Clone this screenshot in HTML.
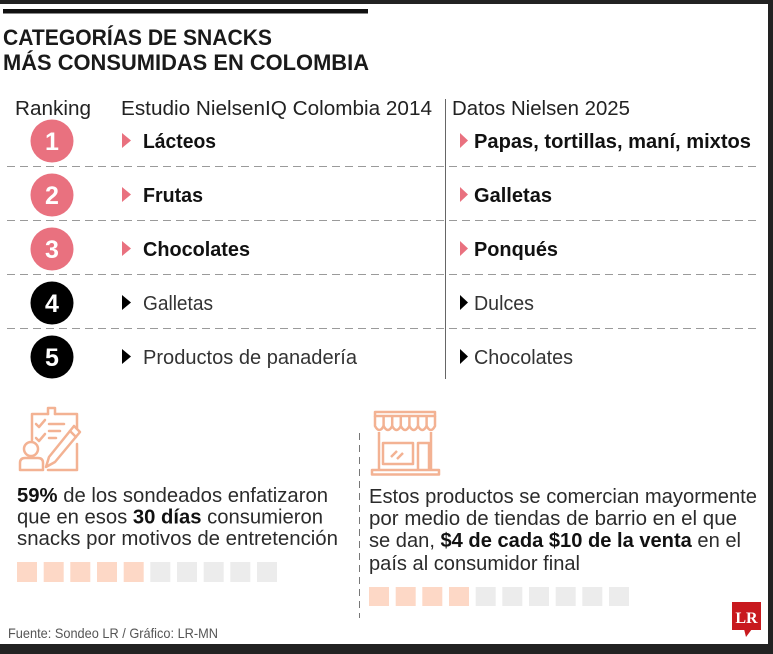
<!DOCTYPE html>
<html>
<head>
<meta charset="utf-8">
<style>
html,body{margin:0;padding:0;background:#fff;}
svg{display:block;}
text{font-family:"Liberation Sans",sans-serif;}
</style>
</head>
<body>
<svg width="773" height="654" viewBox="0 0 773 654" xmlns="http://www.w3.org/2000/svg">
<rect x="0" y="0" width="773" height="654" fill="#fff"/>
<!-- dark frame -->
<rect x="0" y="0" width="773" height="4" fill="#222"/>
<rect x="768" y="0" width="5" height="654" fill="#222"/>
<rect x="0" y="644" width="773" height="10" fill="#222"/>
<!-- top bar -->
<rect x="3" y="9" width="365" height="4.5" fill="#111"/>
<!-- title -->
<text x="3" y="45" font-size="22.5" font-weight="bold" fill="#1a1a1a" textLength="269" lengthAdjust="spacingAndGlyphs">CATEGORÍAS DE SNACKS</text>
<text x="3" y="70" font-size="22.5" font-weight="bold" fill="#1a1a1a" textLength="366" lengthAdjust="spacingAndGlyphs">MÁS CONSUMIDAS EN COLOMBIA</text>
<!-- header -->
<text x="15" y="115" font-size="20.5" fill="#222" textLength="76" lengthAdjust="spacingAndGlyphs">Ranking</text>
<text x="121" y="115" font-size="20.5" fill="#222" textLength="311" lengthAdjust="spacingAndGlyphs">Estudio NielsenIQ Colombia 2014</text>
<text x="452" y="115" font-size="20.5" fill="#222" textLength="178" lengthAdjust="spacingAndGlyphs">Datos Nielsen 2025</text>
<!-- vertical divider -->
<line x1="445.5" y1="99" x2="445.5" y2="379" stroke="#666" stroke-width="1"/>
<!-- dashed rows -->
<g stroke="#9a9a9a" stroke-width="1" stroke-dasharray="8 5">
<line x1="7" y1="166.5" x2="760" y2="166.5"/>
<line x1="7" y1="220.5" x2="760" y2="220.5"/>
<line x1="7" y1="274.5" x2="760" y2="274.5"/>
<line x1="7" y1="328.5" x2="760" y2="328.5"/>
</g>
<!-- circles -->
<circle cx="52" cy="141" r="21.5" fill="#e9717f"/>
<circle cx="52" cy="195" r="21.5" fill="#e9717f"/>
<circle cx="52" cy="249" r="21.5" fill="#e9717f"/>
<circle cx="52" cy="303" r="21.5" fill="#000"/>
<circle cx="52" cy="357" r="21.5" fill="#000"/>
<g font-size="25" font-weight="bold" fill="#fff" text-anchor="middle" style="font-family:'DejaVu Sans Condensed','Liberation Sans Narrow','Liberation Sans',sans-serif">
<text x="52" y="150">1</text>
<text x="52" y="204">2</text>
<text x="52" y="258">3</text>
<text x="52" y="312">4</text>
<text x="52" y="366">5</text>
</g>
<!-- triangles left -->
<polygon points="122,133 131,140.5 122,148" fill="#e9717f"/>
<polygon points="122,187 131,194.5 122,202" fill="#e9717f"/>
<polygon points="122,241 131,248.5 122,256" fill="#e9717f"/>
<polygon points="122,295 131,302.5 122,310" fill="#000"/>
<polygon points="122,349 131,356.5 122,364" fill="#000"/>
<!-- triangles right -->
<polygon points="460,133 468,140.5 460,148" fill="#e9717f"/>
<polygon points="460,187 468,194.5 460,202" fill="#e9717f"/>
<polygon points="460,241 468,248.5 460,256" fill="#e9717f"/>
<polygon points="460,295 468,302.5 460,310" fill="#000"/>
<polygon points="460,349 468,356.5 460,364" fill="#000"/>
<!-- left items -->
<text x="143" y="148" font-size="20" font-weight="bold" fill="#111" textLength="73" lengthAdjust="spacingAndGlyphs">Lácteos</text>
<text x="143" y="202" font-size="20" font-weight="bold" fill="#111" textLength="60" lengthAdjust="spacingAndGlyphs">Frutas</text>
<text x="143" y="256" font-size="20" font-weight="bold" fill="#111" textLength="107" lengthAdjust="spacingAndGlyphs">Chocolates</text>
<text x="143" y="310" font-size="20" fill="#333" textLength="70" lengthAdjust="spacingAndGlyphs">Galletas</text>
<text x="143" y="364" font-size="20" fill="#333" textLength="214" lengthAdjust="spacingAndGlyphs">Productos de panadería</text>
<!-- right items -->
<text x="474" y="148" font-size="20" font-weight="bold" fill="#111" textLength="277" lengthAdjust="spacingAndGlyphs">Papas, tortillas, maní, mixtos</text>
<text x="474" y="202" font-size="20" font-weight="bold" fill="#111" textLength="78" lengthAdjust="spacingAndGlyphs">Galletas</text>
<text x="474" y="256" font-size="20" font-weight="bold" fill="#111" textLength="84" lengthAdjust="spacingAndGlyphs">Ponqués</text>
<text x="474" y="310" font-size="20" fill="#333" textLength="60" lengthAdjust="spacingAndGlyphs">Dulces</text>
<text x="474" y="364" font-size="20" fill="#333" textLength="99" lengthAdjust="spacingAndGlyphs">Chocolates</text>

<!-- left icon -->
<g fill="none" stroke="#f3b293" stroke-width="2.5" stroke-linecap="round" stroke-linejoin="round">
<path d="M32,440 L32,414 L48,414 M55,414 L77,414 L77,428"/>
<path d="M48,414 L48,408 L55,408 L55,414"/>
<path d="M77,444 L77,470 L48,470"/>
<path d="M36,424 L39,427 L45,420"/>
<path d="M36,438 L39,441 L45,434"/>
<line x1="49" y1="424" x2="64" y2="424"/>
<line x1="49" y1="431" x2="60" y2="431"/>
<line x1="49" y1="438" x2="56" y2="438"/>
<path d="M74,426 L80,432 L55,462 L46,467 L49,457 Z"/>
<line x1="70" y1="431" x2="76" y2="437"/>
<circle cx="31" cy="449" r="7"/>
<path d="M20,470 L20,463 Q20,458 25,458 L38,458 Q43,458 43,463 L43,470 Z"/>
</g>

<!-- store icon -->
<g fill="none" stroke="#f3b293" stroke-width="2.5" stroke-linejoin="round">
<rect x="375" y="412" width="60" height="4"/>
<path d="M375,416 L375,426 Q379.3,434 383.6,426 Q387.9,434 392.2,426 Q396.5,434 400.8,426 Q405.1,434 409.4,426 Q413.7,434 418,426 Q422.3,434 426.6,426 Q430.9,434 435,426 L435,416"/>
<line x1="383.6" y1="416" x2="383.6" y2="426"/>
<line x1="392.2" y1="416" x2="392.2" y2="426"/>
<line x1="400.8" y1="416" x2="400.8" y2="426"/>
<line x1="409.4" y1="416" x2="409.4" y2="426"/>
<line x1="418" y1="416" x2="418" y2="426"/>
<line x1="426.6" y1="416" x2="426.6" y2="426"/>
<path d="M379,432 L379,470 M431,432 L431,470"/>
<rect x="383" y="443" width="30" height="21"/>
<path d="M418,470 L418,443 L429,443 L429,470"/>
<rect x="372" y="470" width="67" height="4.5"/>
<line x1="391" y1="457" x2="397" y2="451"/>
<line x1="397" y1="459" x2="403" y2="453"/>
</g>

<!-- left block text -->
<g font-size="20" fill="#2b2b2b">
<text x="17" y="502" textLength="311" lengthAdjust="spacingAndGlyphs"><tspan font-weight="bold" fill="#111">59%</tspan> de los sondeados enfatizaron</text>
<text x="17" y="523.5" textLength="306" lengthAdjust="spacingAndGlyphs">que en esos <tspan font-weight="bold" fill="#111">30 días</tspan> consumieron</text>
<text x="17" y="545" textLength="321" lengthAdjust="spacingAndGlyphs">snacks por motivos de entretención</text>
</g>
<g>
<rect x="17" y="562" width="20" height="20" fill="#fdd8c6"/>
<rect x="43.7" y="562" width="20" height="20" fill="#fdd8c6"/>
<rect x="70.3" y="562" width="20" height="20" fill="#fdd8c6"/>
<rect x="97" y="562" width="20" height="20" fill="#fdd8c6"/>
<rect x="123.7" y="562" width="20" height="20" fill="#fdd8c6"/>
<rect x="150.3" y="562" width="20" height="20" fill="#ececec"/>
<rect x="177" y="562" width="20" height="20" fill="#ececec"/>
<rect x="203.7" y="562" width="20" height="20" fill="#ececec"/>
<rect x="230.3" y="562" width="20" height="20" fill="#ececec"/>
<rect x="257" y="562" width="20" height="20" fill="#ececec"/>
</g>

<!-- dashed vertical separator -->
<line x1="359.5" y1="433" x2="359.5" y2="618" stroke="#777" stroke-width="1" stroke-dasharray="7 5"/>

<!-- right block text -->
<g font-size="20" fill="#2b2b2b">
<text x="369" y="503" textLength="388" lengthAdjust="spacingAndGlyphs">Estos productos se comercian mayormente</text>
<text x="369" y="525" textLength="368" lengthAdjust="spacingAndGlyphs">por medio de tiendas de barrio en el que</text>
<text x="369" y="547" textLength="372" lengthAdjust="spacingAndGlyphs">se dan, <tspan font-weight="bold" fill="#111">$4 de cada $10 de la venta</tspan> en el</text>
<text x="369" y="570" textLength="211" lengthAdjust="spacingAndGlyphs">país al consumidor final</text>
</g>
<g>
<rect x="369" y="587" width="20" height="19" fill="#fdd8c6"/>
<rect x="395.7" y="587" width="20" height="19" fill="#fdd8c6"/>
<rect x="422.3" y="587" width="20" height="19" fill="#fdd8c6"/>
<rect x="449" y="587" width="20" height="19" fill="#fdd8c6"/>
<rect x="475.7" y="587" width="20" height="19" fill="#ececec"/>
<rect x="502.3" y="587" width="20" height="19" fill="#ececec"/>
<rect x="529" y="587" width="20" height="19" fill="#ececec"/>
<rect x="555.7" y="587" width="20" height="19" fill="#ececec"/>
<rect x="582.3" y="587" width="20" height="19" fill="#ececec"/>
<rect x="609" y="587" width="20" height="19" fill="#ececec"/>
</g>

<!-- footer -->
<text x="8" y="638" font-size="14" fill="#555" textLength="210" lengthAdjust="spacingAndGlyphs">Fuente: Sondeo LR / Gráfico: LR-MN</text>

<!-- LR logo -->
<rect x="732" y="602" width="29" height="28" fill="#c8191e"/>
<polygon points="744,629 746,637 752,629" fill="#c8191e"/>
<text x="746.5" y="623" font-size="16" font-weight="bold" fill="#fff" text-anchor="middle" style="font-family:'Liberation Serif',serif">LR</text>
</svg>
</body>
</html>
